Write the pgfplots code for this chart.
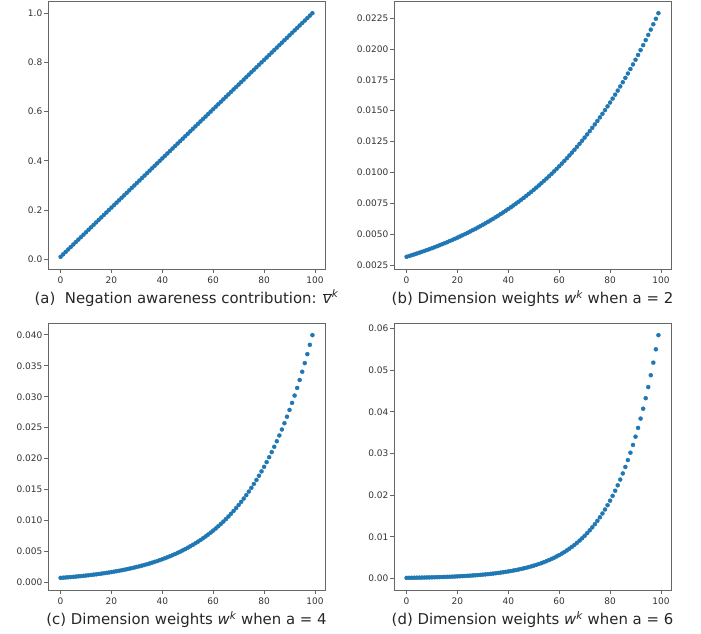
\documentclass[border=0pt]{standalone}
\usepackage{fontspec}
\setmainfont{DejaVu Sans}
\usepackage{pgfplots}
\usepackage{pgfplotstable}
\pgfplotsset{compat=1.18}
\definecolor{mplblue}{HTML}{1F77B4}

% v^k = (k+1)/100 and w^k = exp(a v^k) / sum_j exp(a v^j), k = 0..99
\pgfplotstableread{
y
0.01
0.02
0.03
0.04
0.05
0.06
0.07
0.08
0.09
0.10
0.11
0.12
0.13
0.14
0.15
0.16
0.17
0.18
0.19
0.20
0.21
0.22
0.23
0.24
0.25
0.26
0.27
0.28
0.29
0.30
0.31
0.32
0.33
0.34
0.35
0.36
0.37
0.38
0.39
0.40
0.41
0.42
0.43
0.44
0.45
0.46
0.47
0.48
0.49
0.50
0.51
0.52
0.53
0.54
0.55
0.56
0.57
0.58
0.59
0.60
0.61
0.62
0.63
0.64
0.65
0.66
0.67
0.68
0.69
0.70
0.71
0.72
0.73
0.74
0.75
0.76
0.77
0.78
0.79
0.80
0.81
0.82
0.83
0.84
0.85
0.86
0.87
0.88
0.89
0.90
0.91
0.92
0.93
0.94
0.95
0.96
0.97
0.98
0.99
1.00
}\negvals

\pgfplotstableread{
y
0.0031618
0.0032257
0.0032909
0.0033574
0.0034252
0.0034944
0.0035650
0.0036370
0.0037105
0.0037854
0.0038619
0.0039399
0.0040195
0.0041007
0.0041836
0.0042681
0.0043543
0.0044422
0.0045320
0.0046236
0.0047169
0.0048122
0.0049094
0.0050086
0.0051098
0.0052130
0.0053183
0.0054258
0.0055354
0.0056472
0.0057613
0.0058776
0.0059964
0.0061175
0.0062411
0.0063672
0.0064958
0.0066270
0.0067609
0.0068975
0.0070368
0.0071790
0.0073240
0.0074720
0.0076229
0.0077769
0.0079340
0.0080943
0.0082578
0.0084246
0.0085948
0.0087684
0.0089456
0.0091263
0.0093106
0.0094987
0.0096906
0.0098864
0.0100861
0.0102898
0.0104977
0.0107098
0.0109261
0.0111468
0.0113720
0.0116018
0.0118361
0.0120752
0.0123192
0.0125680
0.0128219
0.0130809
0.0133452
0.0136148
0.0138898
0.0141704
0.0144567
0.0147487
0.0150467
0.0153506
0.0156607
0.0159771
0.0162998
0.0166291
0.0169651
0.0173078
0.0176574
0.0180141
0.0183780
0.0187493
0.0191281
0.0195145
0.0199087
0.0203109
0.0207211
0.0211398
0.0215668
0.0220025
0.0224470
0.0229005
}\wtwo

\pgfplotstableread{
y
0.00076143
0.00079250
0.00082484
0.00085850
0.00089354
0.00093001
0.00096796
0.0010075
0.0010486
0.0010914
0.0011359
0.0011823
0.0012305
0.0012807
0.0013330
0.0013874
0.0014440
0.0015030
0.0015643
0.0016281
0.0016946
0.0017637
0.0018357
0.0019106
0.0019886
0.0020698
0.0021542
0.0022421
0.0023336
0.0024289
0.0025280
0.0026312
0.0027386
0.0028503
0.0029666
0.0030877
0.0032137
0.0033449
0.0034814
0.0036235
0.0037713
0.0039253
0.0040854
0.0042522
0.0044257
0.0046063
0.0047942
0.0049900
0.0051936
0.0054056
0.0056262
0.0058558
0.0060948
0.0063435
0.0066024
0.0068719
0.0071523
0.0074442
0.0077480
0.0080642
0.0083933
0.0087358
0.0090924
0.0094634
0.0098496
0.0102516
0.0106700
0.0111054
0.0115587
0.0120304
0.0125214
0.0130324
0.0135642
0.0141178
0.0146940
0.0152937
0.0159178
0.0165674
0.0172436
0.0179473
0.0186797
0.0194421
0.0202355
0.0210613
0.0219209
0.0228155
0.0237466
0.0247157
0.0257244
0.0267742
0.0278669
0.0290042
0.0301878
0.0314198
0.0327021
0.0340367
0.0354258
0.0368715
0.0383763
0.0399424
}\wfour

\pgfplotstableread{
y
0.00015366
0.00016316
0.00017325
0.00018396
0.00019534
0.00020742
0.00022024
0.00023386
0.00024832
0.00026368
0.00027998
0.00029730
0.00031568
0.00033520
0.00035593
0.00037794
0.00040131
0.00042612
0.00045247
0.00048045
0.00051016
0.00054171
0.00057520
0.00061077
0.00064854
0.00068864
0.00073123
0.00077645
0.00082446
0.00087544
0.00092957
0.00098705
0.0010481
0.0011129
0.0011818
0.0012548
0.0013324
0.0014148
0.0015023
0.0015952
0.0016938
0.0017985
0.0019097
0.0020278
0.0021532
0.0022864
0.0024278
0.0025779
0.0027373
0.0029066
0.0030863
0.0032772
0.0034798
0.0036950
0.0039235
0.0041661
0.0044237
0.0046973
0.0049877
0.0052962
0.0056237
0.0059714
0.0063407
0.0067328
0.0071491
0.0075912
0.0080605
0.0085589
0.0090882
0.0096502
0.0102469
0.0108806
0.0115534
0.0122678
0.0130264
0.0138319
0.0146872
0.0155954
0.0165598
0.0175838
0.0186711
0.0198257
0.0210516
0.0223534
0.0237356
0.0252034
0.0267619
0.0284167
0.0301739
0.0320398
0.0340210
0.0361248
0.0383586
0.0407305
0.0432492
0.0459235
0.0487633
0.0517787
0.0549805
0.0583802
}\wsix

\pgfplotsset{
  panel/.style={
    scale only axis, width=277pt, anchor=south west,
    xmin=-4.95, xmax=103.95, xtick={0,20,...,100},
    tick align=outside, tick pos=left, major tick length=4pt,
    axis line style={black!60, line width=0.9pt},
    tick style={black!60, line width=0.9pt},
    ticklabel style={font=\fontsize{9}{10}\selectfont, text=black!80},
    yticklabel style={inner sep=1.5pt},
    /pgf/number format/assume math mode=true,
    scaled y ticks=false,
    xlabel style={at={(axis description cs:0.5,0)}, anchor=base,
      yshift=-34.8pt, font=\fontsize{14.9}{16}\selectfont, text=black!85, inner sep=0pt},
  },
  dots/.style={color=mplblue, only marks, mark=*, mark size=2pt,
    mark options={draw=none, fill=mplblue}},
}

\begin{document}
\begin{tikzpicture}
\path[use as bounding box] (0pt,0pt) rectangle (701pt,634pt);

% (a)
\begin{axis}[panel, at={(48pt,365pt)}, height=268pt,
  ymin=-0.0395, ymax=1.0495, ytick={0,0.2,...,1.0},
  yticklabel style={/pgf/number format/.cd, fixed, fixed zerofill, precision=1},
  xlabel={(a)\ \ Negation awareness contribution: $\overline{\mbox{\itshape v}}^{\mbox{\fontsize{10.4}{11}\selectfont\itshape k}}$}]
\addplot[dots] table[x expr=\coordindex, y index=0] {\negvals};
\end{axis}

% (b)
\begin{axis}[panel, at={(394pt,365pt)}, height=268pt,
  ymin=0.0021749, ymax=0.0238874, ytick={0.0025,0.005,...,0.0226},
  yticklabel style={/pgf/number format/.cd, fixed, fixed zerofill, precision=4},
  xlabel={(b) Dimension weights \textit{w}\textsuperscript{\itshape k} when a = 2}]
\addplot[dots] table[x expr=\coordindex, y index=0] {\wtwo};
\end{axis}

% (c)
\begin{axis}[panel, at={(48pt,44pt)}, height=267pt,
  ymin=-0.0011976, ymax=0.0419015, ytick={0,0.005,...,0.0401},
  yticklabel style={/pgf/number format/.cd, fixed, fixed zerofill, precision=3},
  xlabel={(c) Dimension weights \textit{w}\textsuperscript{\itshape k} when a = 4}]
\addplot[dots] table[x expr=\coordindex, y index=0] {\wfour};
\end{axis}

% (d)
\begin{axis}[panel, at={(394pt,44pt)}, height=267pt,
  ymin=-0.0027577, ymax=0.0612915, ytick={0,0.01,...,0.061},
  yticklabel style={/pgf/number format/.cd, fixed, fixed zerofill, precision=2},
  xlabel={(d) Dimension weights \textit{w}\textsuperscript{\itshape k} when a = 6}]
\addplot[dots] table[x expr=\coordindex, y index=0] {\wsix};
\end{axis}
\end{tikzpicture}
\end{document}
